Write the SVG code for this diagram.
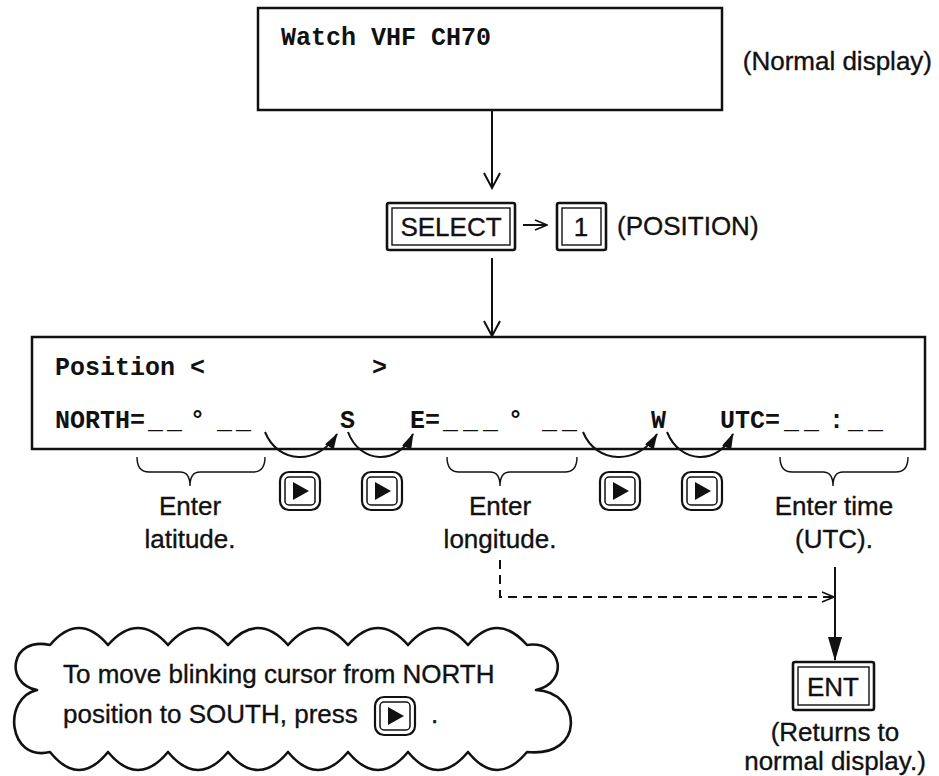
<svg xmlns="http://www.w3.org/2000/svg" xmlns:xlink="http://www.w3.org/1999/xlink" width="939" height="776" viewBox="0 0 939 776">
<style>
.mono{font-family:"Liberation Mono","Courier New",monospace;font-weight:bold;font-size:25px;fill:#111}
.lbl{font-family:"Liberation Sans",Arial,sans-serif;font-size:26px;fill:#111;stroke:#111;stroke-width:0.35}
.box{fill:none;stroke:#111;stroke-width:2.5}
.line{fill:none;stroke:#111;stroke-width:2}
.thin{fill:none;stroke:#111;stroke-width:1.4}
</style>
<defs>
<marker id="openV" markerUnits="userSpaceOnUse" markerWidth="18" markerHeight="18" viewBox="0 0 18 18" refX="16" refY="9" orient="auto">
<path d="M1,1 L16,9 L1,17" fill="none" stroke="#111" stroke-width="2"/>
</marker>
<marker id="openS" markerUnits="userSpaceOnUse" markerWidth="14" markerHeight="12" viewBox="0 0 14 12" refX="13" refY="6" orient="auto">
<path d="M1,1 L13,6 L1,11" fill="none" stroke="#111" stroke-width="1.6"/>
</marker>
<marker id="fill" markerUnits="userSpaceOnUse" markerWidth="16" markerHeight="10" viewBox="0 0 16 10" refX="15" refY="5" orient="auto">
<path d="M0,0 L16,5 L0,10 z" fill="#111"/>
</marker>
<marker id="fillBig" markerUnits="userSpaceOnUse" markerWidth="24" markerHeight="14" viewBox="0 0 24 14" refX="23" refY="7" orient="auto">
<path d="M0,0 L24,7 L0,14 z" fill="#111"/>
</marker>
<g id="rbtn">
<rect x="0" y="0" width="40" height="38" rx="9" fill="#fff" stroke="#111" stroke-width="2.2"/>
<rect x="5" y="5" width="30" height="28" rx="4" fill="none" stroke="#111" stroke-width="1.5"/>
<polygon points="13,10 13,28 29,19" fill="#111"/>
</g>
</defs>
<rect width="939" height="776" fill="#fff"/>

<g id="normal-display">
<rect class="box" x="258" y="8" width="464" height="102"/>
<text class="mono" x="281" y="45">Watch VHF CH70</text>
</g>
<g id="normal-label">
<text class="lbl" x="932" y="70" text-anchor="end">(Normal display)</text>
</g>

<g id="select-key">
<rect x="387" y="203" width="128" height="47" fill="none" stroke="#111" stroke-width="2.6" rx="2"/>
<rect x="392" y="208" width="118" height="37" fill="none" stroke="#111" stroke-width="1.4"/>
<text class="lbl" x="451" y="236" text-anchor="middle">SELECT</text>
</g>
<g id="key-1">
<rect x="557" y="203" width="49" height="47" fill="none" stroke="#111" stroke-width="2.6" rx="2"/>
<rect x="562" y="208" width="39" height="37" fill="none" stroke="#111" stroke-width="1.4"/>
<text class="lbl" x="581" y="236" text-anchor="middle">1</text>
</g>
<g id="position-label">
<text class="lbl" x="617" y="235">(POSITION)</text>
</g>

<g id="position-display">
<rect class="box" x="32" y="337" width="893" height="112"/>
<text class="mono" x="55" y="375">Position &lt;</text>
<text class="mono" x="372" y="375">&gt;</text>
<text class="mono" x="55" y="428">NORTH=</text>
<text class="mono" x="148 167" y="428">__</text>
<text class="mono" x="190" y="428">°</text>
<text class="mono" x="217 236" y="428">__</text>
<text class="mono" x="340" y="428">S</text>
<text class="mono" x="410" y="428">E=</text>
<text class="mono" x="443 463 483" y="428">___</text>
<text class="mono" x="508" y="428">°</text>
<text class="mono" x="542 562" y="428">__</text>
<text class="mono" x="651" y="428">W</text>
<text class="mono" x="720" y="428">UTC=</text>
<text class="mono" x="784 804" y="428">__</text>
<text class="mono" x="829" y="428">:</text>
<text class="mono" x="848 868" y="428">__</text>
</g>

<g id="braces">
<path class="thin" d="M137,457 Q137,472 149,472 L180,472 Q190,472 190,486 Q190,472 200,472 L253,472 Q265,472 265,457"/>
<path class="thin" d="M447,457 Q447,472 459,472 L490,472 Q500,472 500,486 Q500,472 510,472 L565,472 Q577,472 577,457"/>
<path class="thin" d="M780,457 Q780,472 792,472 L823,472 Q833,472 833,486 Q833,472 843,472 L896,472 Q908,472 908,457"/>
</g>

<g id="btn-1"><use xlink:href="#rbtn" x="280" y="472"/></g>
<g id="btn-2"><use xlink:href="#rbtn" x="362" y="472"/></g>
<g id="btn-3"><use xlink:href="#rbtn" x="600" y="472"/></g>
<g id="btn-4"><use xlink:href="#rbtn" x="682" y="472"/></g>

<g id="label-latitude">
<text class="lbl" x="190" y="515" text-anchor="middle">Enter</text>
<text class="lbl" x="190" y="548" text-anchor="middle">latitude.</text>
</g>
<g id="label-longitude">
<text class="lbl" x="500" y="515" text-anchor="middle">Enter</text>
<text class="lbl" x="500" y="548" text-anchor="middle">longitude.</text>
</g>
<g id="label-time">
<text class="lbl" x="834" y="515" text-anchor="middle">Enter time</text>
<text class="lbl" x="834" y="548" text-anchor="middle">(UTC).</text>
</g>

<g id="ent-key">
<rect x="793" y="662" width="81" height="48" fill="none" stroke="#111" stroke-width="2.6" rx="2"/>
<rect x="798" y="667" width="71" height="38" fill="none" stroke="#111" stroke-width="1.4"/>
<text class="lbl" x="833" y="696" text-anchor="middle">ENT</text>
</g>
<g id="ent-label">
<text class="lbl" x="835" y="741" text-anchor="middle">(Returns to</text>
<text class="lbl" x="835" y="770" text-anchor="middle">normal display.)</text>
</g>

<g id="note-cloud">
<path fill="#fff" stroke="#111" stroke-width="2.6" stroke-linejoin="round" d="M50,645 Q79,611 108,645 Q138,611 168,645 Q198,611 228,645 Q258,611 288,645 Q318,611 348,645 Q378,611 408,645 Q438,611 468,645 Q497,611 527,645 C562,640 570,682 536,690 C582,692 586,758 527,752 Q497,788 468,752 Q438,788 408,752 Q378,788 348,752 Q318,788 288,752 Q258,788 228,752 Q198,788 168,752 Q138,788 108,752 Q79,788 50,752 C8,762 2,698 37,690 C4,684 10,636 50,645 Z"/>
<text class="lbl" x="63" y="683">To move blinking cursor from NORTH</text>
<text class="lbl" x="63" y="723">position to SOUTH, press</text>
<use xlink:href="#rbtn" x="375" y="697"/>
<text class="lbl" x="431" y="723">.</text>
</g>

<g id="connectors">
<line class="line" x1="492" y1="110" x2="492" y2="188" marker-end="url(#openV)"/>
<line class="line" x1="492" y1="258" x2="492" y2="336" marker-end="url(#openV)"/>
<line class="line" x1="523" y1="225" x2="547" y2="225" stroke-width="1.8" marker-end="url(#openS)"/>
<path class="line" d="M265,432 C278,464 318,466 337,434" marker-end="url(#fill)"/>
<path class="line" d="M348,432 C360,464 398,466 413,434" marker-end="url(#fill)"/>
<path class="line" d="M583,432 C596,464 638,466 657,434" marker-end="url(#fill)"/>
<path class="line" d="M667,432 C680,464 718,466 733,434" marker-end="url(#fill)"/>
<path class="line" d="M500,560 L500,597 L834,597" stroke-dasharray="9 6" marker-end="url(#openS)"/>
<line class="line" x1="835" y1="567" x2="835" y2="660" marker-end="url(#fillBig)"/>
</g>
</svg>
